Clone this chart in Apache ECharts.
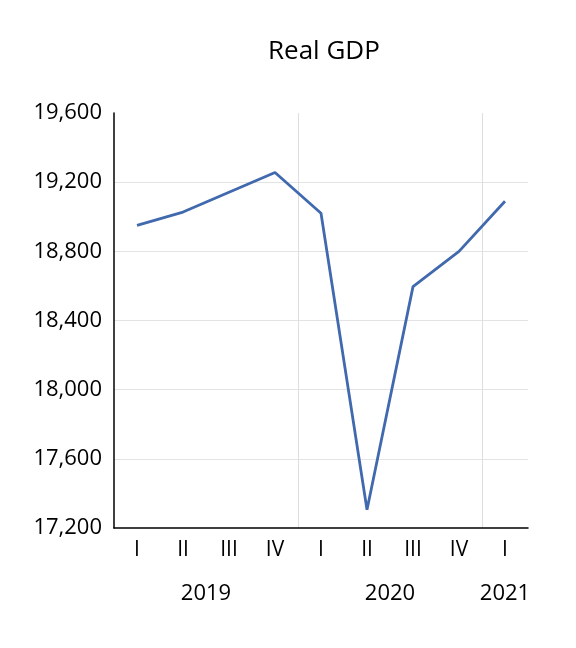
<!DOCTYPE html>
<html>
<head>
<meta charset="utf-8">
<script src="https://cdn.jsdelivr.net/npm/echarts@6/dist/echarts.min.js"></script>
<style>
  html, body { margin: 0; padding: 0; background: #fff; }
  #chart { width: 576px; height: 648px; }
</style>
</head>
<body>
<div id="chart"></div>
<script>
const quarters = ['I', 'II', 'III', 'IV', 'I', 'II', 'III', 'IV', 'I']
const years = ['2019', '2020', '2021']
const quartersPerYear = [4, 4, 1]
const realGdp = [18950, 19027, 19142, 19256, 19020, 17306, 18596, 18800, 19090]

const yTicks = { min: 17200, max: 19600, interval: 400 }

// centre of each year group, in category units (0 = left edge of first category)
const yearCentres = {}
let start = 0
years.forEach((y, i) => {
  yearCentres[start + quartersPerYear[i] / 2] = y
  start += quartersPerYear[i]
})

const font = 'Open Sans'
const chart = echarts.init(document.getElementById('chart'))

const option = {
  animation: false,
  title: {
    text: 'Real GDP',
    left: 263,
    top: 34,
    textStyle: { fontFamily: font, fontSize: 26, fontWeight: 'normal', color: '#000' }
  },
  grid: { left: 114, right: 48, top: 113, bottom: 120 },
  xAxis: [
    {
      type: 'category',
      data: quarters,
      boundaryGap: true,
      axisLine: { lineStyle: { color: '#000', width: 1.5 } },
      axisTick: { show: false },
      axisLabel: { fontFamily: font, fontSize: 21, color: '#000', margin: 12, interval: 0 },
      splitLine: { show: false },
      z: 3
    },
    {
      // year labels, centred under their quarters
      type: 'value',
      position: 'bottom',
      min: 0,
      max: quarters.length,
      interval: 0.5,
      axisLine: { show: false },
      axisTick: { show: false },
      splitLine: { show: false },
      axisLabel: {
        fontFamily: font,
        fontSize: 22,
        color: '#000',
        margin: 55,
        showMinLabel: false,
        showMaxLabel: false,
        formatter: v => yearCentres[v] || ''
      }
    },
    {
      // vertical lines between years
      type: 'value',
      position: 'bottom',
      min: 0,
      max: quarters.length,
      interval: quartersPerYear[0],
      axisLine: { show: false },
      axisTick: { show: false },
      axisLabel: { show: false },
      splitLine: {
        show: true,
        showMinLine: false,
        showMaxLine: false,
        lineStyle: { color: '#dedede', width: 1 }
      }
    }
  ],
  yAxis: {
    type: 'value',
    min: yTicks.min,
    max: yTicks.max,
    interval: yTicks.interval,
    axisLine: { show: true, lineStyle: { color: '#000', width: 1.5 } },
    axisTick: { show: false },
    axisLabel: {
      fontFamily: font,
      fontSize: 22,
      color: '#000',
      margin: 12,
      formatter: v => v.toLocaleString('en-US')
    },
    splitLine: { show: true, showMaxLine: false, showMinLine: false, lineStyle: { color: '#e3e3e3', width: 1 } }
  },
  series: [
    {
      type: 'line',
      data: realGdp,
      xAxisIndex: 0,
      symbol: 'none',
      lineStyle: { color: '#4169AE', width: 2.8 }
    }
  ]
}

chart.setOption(option)
</script>
</body>
</html>
